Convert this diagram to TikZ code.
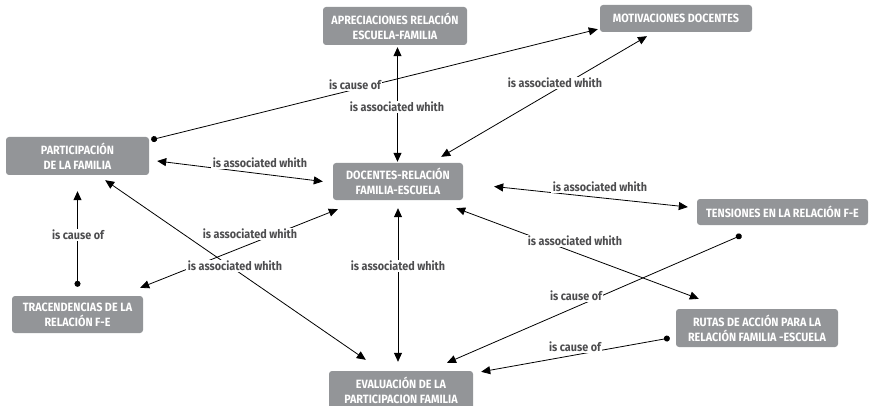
\documentclass[tikz,border=0pt]{standalone}
\usepackage{fontspec}
\setmainfont{Fira Sans}[FakeStretch=0.9]
\usepackage{tikz}
\usetikzlibrary{positioning}
\usetikzlibrary{calc}
\usetikzlibrary{arrows.meta}
\definecolor{conceptgray}{HTML}{939598}
\definecolor{labelgray}{HTML}{4D4D4F}

\begin{document}
\begin{tikzpicture}[
    x=1pt,
    y=-1pt,
    concept/.style={fill=conceptgray, text=white, rounded corners=3pt,
      font=\bfseries\fontsize{12}{15}\selectfont, align=center,
      inner sep=2pt, minimum height=38pt},
    linklabel/.style={fill=white, text=labelgray,
      font=\bfseries\fontsize{12}{14}\selectfont, inner sep=1.5pt},
    assoc/.style={draw=black, line width=0.8pt,
      {Triangle[length=9pt,width=8pt]}-{Triangle[length=9pt,width=8pt]}},
    cause/.style={draw=black, line width=0.8pt,
      {Circle[length=6pt]}-{Triangle[length=9pt,width=8pt]}}
]
  \useasboundingbox (0,0) rectangle (869,406);
  % concepts
  \node[concept, minimum width=144pt] (apre) at (395,26) {APRECIACIONES RELACIÓN\\ESCUELA-FAMILIA};
  \node[concept, minimum width=152pt, minimum height=27pt] (moti) at (676,18.5) {MOTIVACIONES DOCENTES};
  \node[concept, minimum width=143pt] (part) at (77.5,156) {PARTICIPACIÓN\\DE LA FAMILIA};
  \node[concept, minimum width=130pt, minimum height=37pt] (doce) at (398,181.5) {DOCENTES-RELACIÓN\\FAMILIA-ESCUELA};
  \node[concept, minimum width=171pt, minimum height=26pt] (tens) at (782.5,212) {TENSIONES EN LA RELACIÓN F-E};
  \node[concept, minimum width=131pt, minimum height=37pt] (trac) at (77.5,314.5) {TRACENDENCIAS DE LA\\RELACIÓN F-E};
  \node[concept, minimum width=162pt] (ruta) at (757,328) {RUTAS DE ACCIÓN PARA LA\\RELACIÓN FAMILIA -ESCUELA};
  \node[concept, minimum width=144pt] (eval) at (401,390) {EVALUACIÓN DE LA\\PARTICIPACION FAMILIA};

  % connectors
  \draw[cause] ($(part.north east)+(2,3)$) -- ($(moti.south west)+(-2,-3)$);
  \draw[assoc] ($(apre.south)+(2.5,2)$) -- ($(doce.north)+(-0.5,-1)$);
  \draw[assoc] ($(moti.south)+(-29,4)$) -- ($(doce.north east)+(-22,-6)$);
  \draw[assoc] ($(part.east)+(8,5)$) -- ($(doce.west)+(-10,0)$);
  \draw[assoc] ($(doce.east)+(31,5)$) -- ($(tens.west)+(-9,-5)$);
  \draw[assoc] ($(doce.south east)+(-7,8)$) -- ($(ruta.north west)+(23,-10)$);
  \draw[cause] ($(tens.south)+(-41,10)$) -- ($(eval.north)+(46,-8)$);
  \draw[cause] ($(ruta.west)+(-6,10)$) -- ($(eval.north east)+(8,1)$);
  \draw[assoc] ($(doce.south)+(0,8)$) -- ($(eval.north)+(-3,-9)$);
  \draw[assoc] ($(part.south east)+(-44,5)$) -- ($(eval.north west)+(37,-11)$);
  \draw[assoc] ($(trac.north east)+(-3,-8)$) -- ($(doce.south west)+(5,9)$);
  \draw[cause] ($(trac.north)+(0,-9)$) -- ($(part.south)+(0,16)$);

  % link labels
  \node[linklabel] (l1) at (355,85) {is cause of};
  \node[linklabel] (l2) at (397,107) {is associated whith};
  \node[linklabel] (l3) at (555,83) {is associated whith};
  \node[linklabel] (l4) at (260,163) {is associated whith};
  \node[linklabel] (l5) at (600,187) {is associated whith};
  \node[linklabel] (l6) at (575,241) {is associated whith};
  \node[linklabel] (l7) at (576,296) {is cause of};
  \node[linklabel] (l8) at (575,347) {is cause of};
  \node[linklabel] (l9) at (398,266) {is associated whith};
  \node[linklabel] (l10) at (235,266) {is associated whith};
  \node[linklabel] (l11) at (250,234) {is associated whith};
  \node[linklabel] (l12) at (78,235) {is cause of};
\end{tikzpicture}
\end{document}
